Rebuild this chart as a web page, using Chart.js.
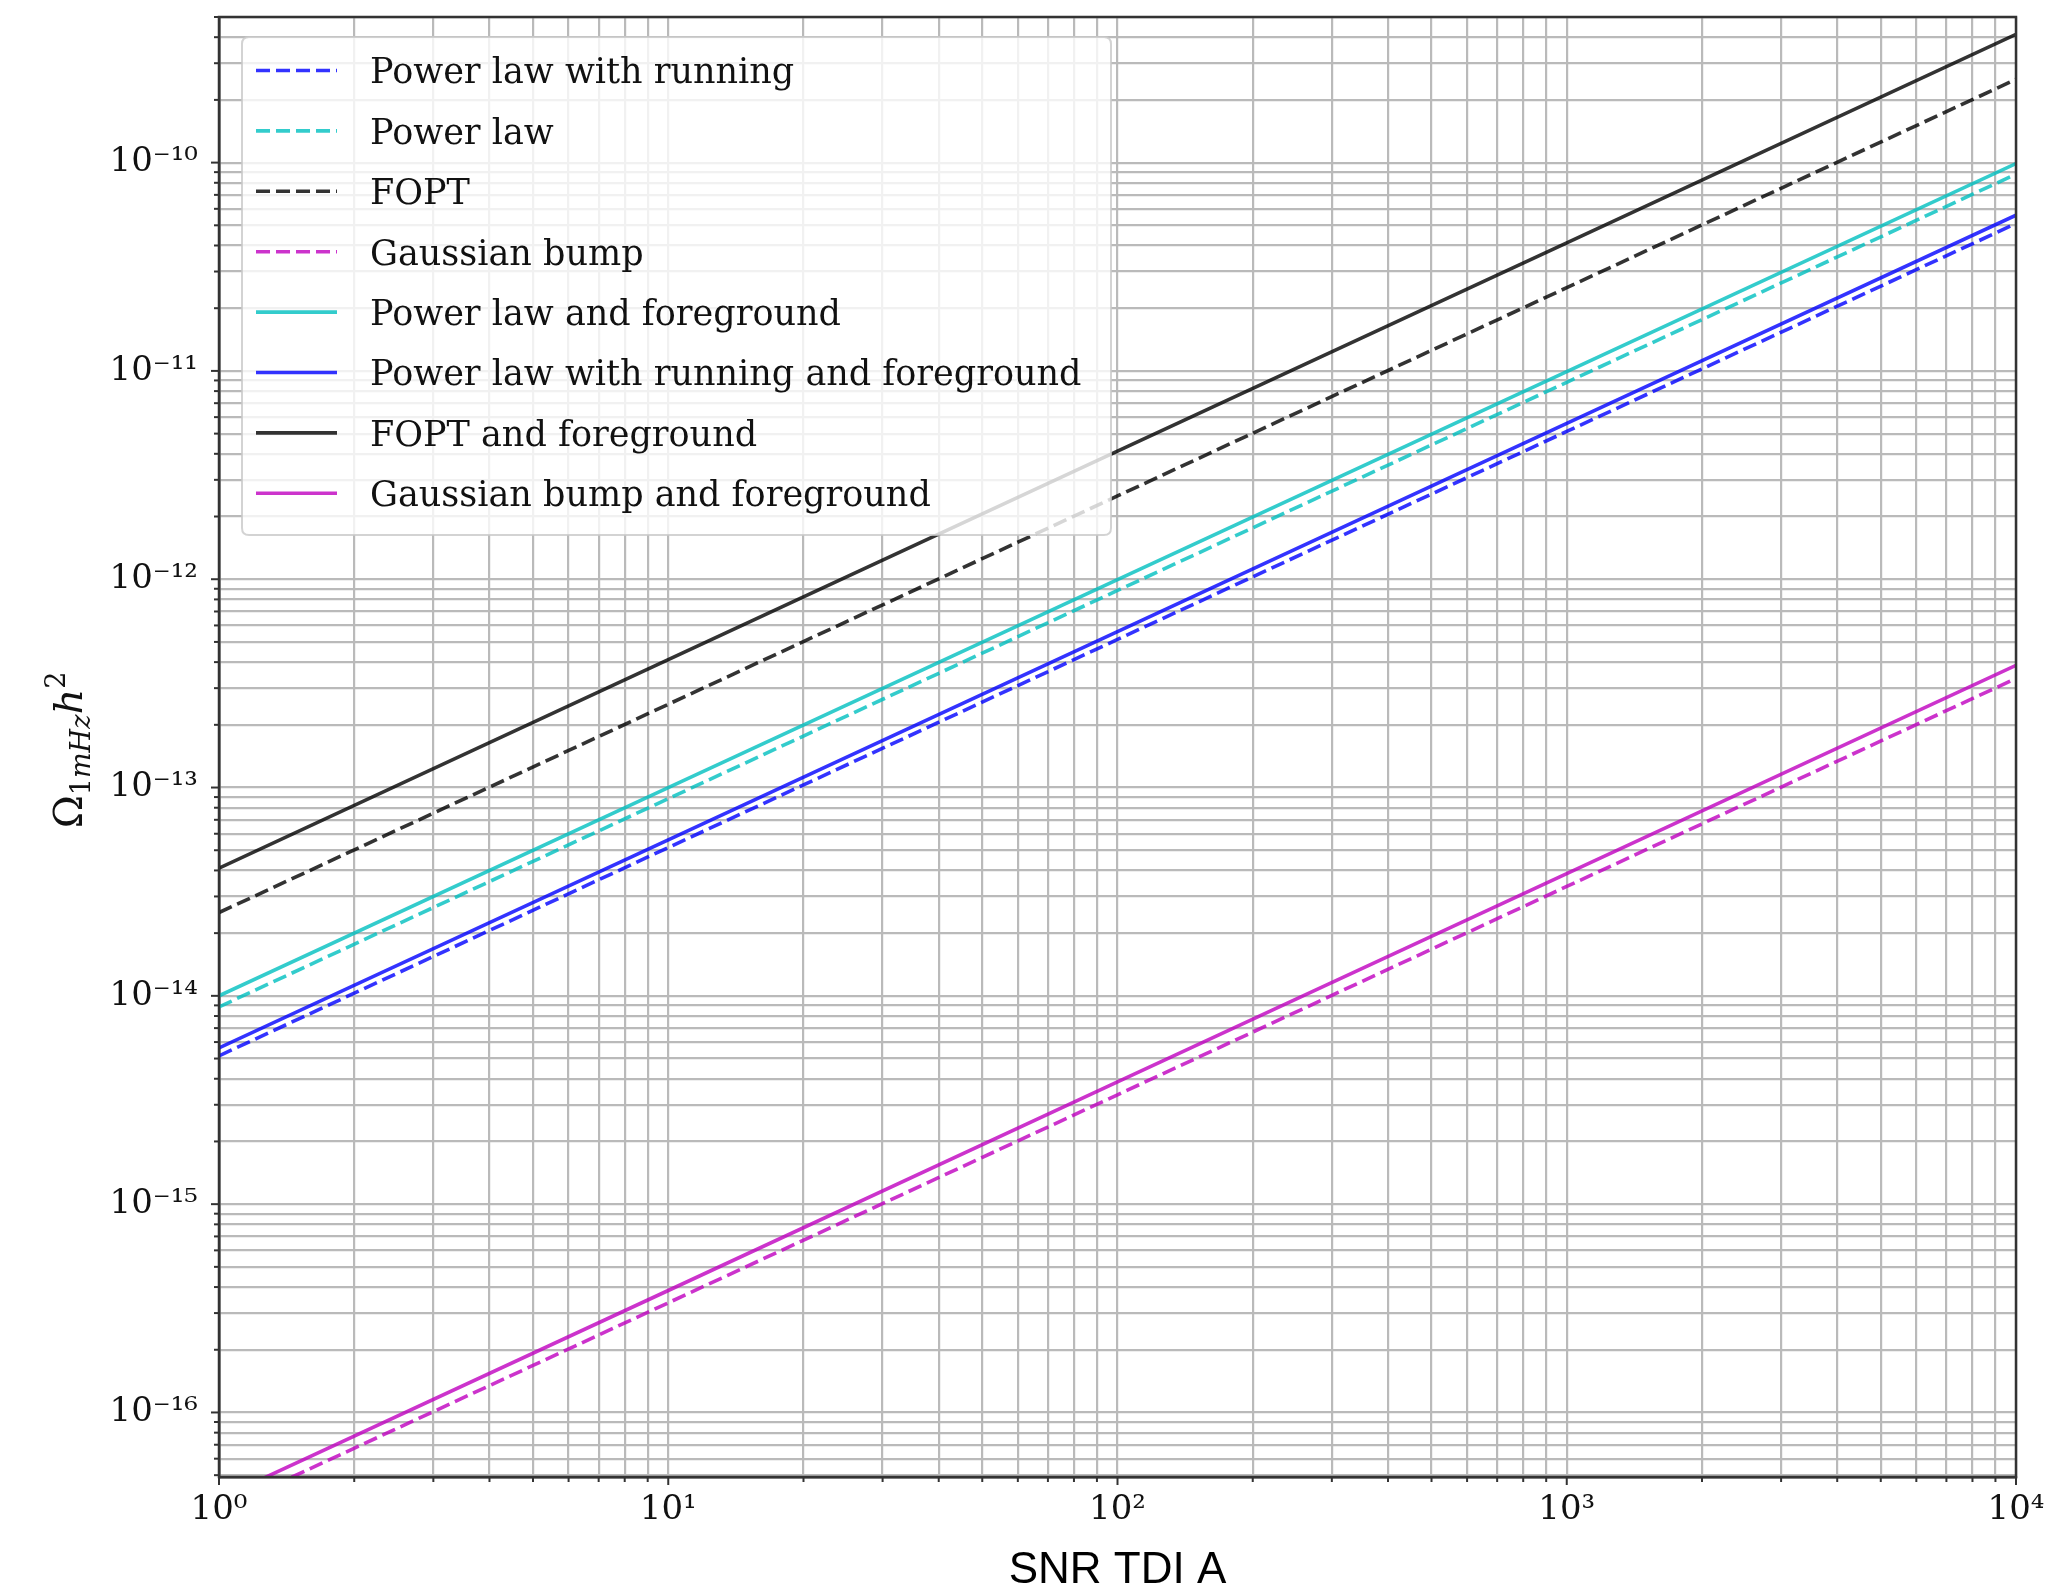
<!DOCTYPE html>
<html><head><meta charset="utf-8">
<script src="https://cdn.jsdelivr.net/npm/chart.js@4/dist/chart.umd.min.js"></script>
<style>html,body{margin:0;padding:0;background:#fff;overflow:hidden}canvas{display:block}</style>
</head><body>
<canvas id="c" width="2059" height="1591" style="width:2059px;height:1591px"></canvas>
<script>
// ---- data ----
const snr = [1, 10, 100, 1000, 10000];
const plRunning   = [5.15e-15, 5.15e-14, 5.14e-13, 5.12e-12, 5.10e-11];
const powerLaw    = [8.85e-15, 8.84e-14, 8.83e-13, 8.82e-12, 8.80e-11];
const fopt        = [2.51e-14, 2.51e-13, 2.51e-12, 2.51e-11, 2.51e-10];
const gaussBump   = [3.37e-17, 3.36e-16, 3.35e-15, 3.35e-14, 3.34e-13];
const powerLawFg  = [1.00e-14, 9.98e-14, 9.95e-13, 9.92e-12, 9.90e-11];
const plRunningFg = [5.62e-15, 5.61e-14, 5.60e-13, 5.60e-12, 5.59e-11];
const foptFg      = [4.10e-14, 4.11e-13, 4.12e-12, 4.12e-11, 4.13e-10];
const gaussBumpFg = [3.85e-17, 3.85e-16, 3.86e-15, 3.86e-14, 3.86e-13];

const seriesLabels = ['Power law with running','Power law','FOPT','Gaussian bump',
  'Power law and foreground','Power law with running and foreground','FOPT and foreground','Gaussian bump and foreground'];
const seriesValues = [plRunning, powerLaw, fopt, gaussBump, powerLawFg, plRunningFg, foptFg, gaussBumpFg];
const seriesColors = ['rgba(0,0,255,0.8)','rgba(0,191,191,0.8)','rgba(0,0,0,0.8)','rgba(191,0,191,0.8)',
  'rgba(0,191,191,0.8)','rgba(0,0,255,0.8)','rgba(0,0,0,0.8)','rgba(191,0,191,0.8)'];
const seriesDashed = [true,true,true,true,false,false,false,false];

const xTickValues = [1, 10, 100, 1000, 10000];
const xTickLabels = ['10⁰','10¹','10²','10³','10⁴'];
const yTickValues = [1e-16, 1e-15, 1e-14, 1e-13, 1e-12, 1e-11, 1e-10];
const yTickLabels = ['10⁻¹⁶','10⁻¹⁵','10⁻¹⁴','10⁻¹³','10⁻¹²','10⁻¹¹','10⁻¹⁰'];
const xRange = [1, 1e4];
const yRange = [4.9e-17, 5.0e-10];
const xTitle = 'SNR TDI A';

// ---- helpers ----
function isPow10(v){ const l = Math.log10(v); return Math.abs(l - Math.round(l)) < 1e-6; }
function gridValues(min, max){
  const out = [];
  for (let e = Math.floor(Math.log10(min)) ; e <= Math.ceil(Math.log10(max)); e++){
    for (let k = 1; k <= 9; k++){
      const v = parseFloat((k*Math.pow(10,e)).toPrecision(12));
      if (v >= min*(1-1e-9) && v <= max*(1+1e-9)) out.push(v);
    }
  }
  return out;
}
function labelFor(vals, labels, v){
  for (let i=0;i<vals.length;i++){ if (Math.abs(Math.log10(v)-Math.log10(vals[i]))<1e-6) return labels[i]; }
  return '';
}

const datasets = seriesLabels.map((lab,i)=>({
  label: lab,
  data: snr.map((x,j)=>({x:x, y:seriesValues[i][j]})),
  borderColor: seriesColors[i],
  backgroundColor: seriesColors[i],
  borderWidth: 3.6,
  borderDash: seriesDashed[i] ? [14,6] : [],
  pointRadius: 0, tension: 0, fill: false
}));

const SERIF = '"DejaVu Serif", serif';

const decor = {
  id: 'decor',
  afterDatasetsDraw(chart){
    // legend box (upper left, inside the axes)
    const ctx = chart.ctx, a = chart.chartArea;
    const bx = a.left + 23, by = a.top + 20, bw = 869, bh = 498, r = 7;
    ctx.save();
    ctx.beginPath();
    ctx.moveTo(bx+r,by); ctx.lineTo(bx+bw-r,by); ctx.quadraticCurveTo(bx+bw,by,bx+bw,by+r);
    ctx.lineTo(bx+bw,by+bh-r); ctx.quadraticCurveTo(bx+bw,by+bh,bx+bw-r,by+bh);
    ctx.lineTo(bx+r,by+bh); ctx.quadraticCurveTo(bx,by+bh,bx,by+bh-r);
    ctx.lineTo(bx,by+r); ctx.quadraticCurveTo(bx,by,bx+r,by); ctx.closePath();
    ctx.fillStyle = 'rgba(255,255,255,0.8)'; ctx.fill();
    ctx.strokeStyle = 'rgba(200,200,200,0.8)'; ctx.lineWidth = 2; ctx.stroke();
    ctx.font = '35px ' + SERIF; ctx.textBaseline = 'alphabetic'; ctx.textAlign = 'left';
    chart.data.datasets.forEach((ds,i)=>{
      const yy = by + 33.5 + i*60.4;
      ctx.beginPath();
      ctx.setLineDash(ds.borderDash || []);
      ctx.strokeStyle = ds.borderColor; ctx.lineWidth = ds.borderWidth;
      ctx.moveTo(bx+14, yy); ctx.lineTo(bx+95, yy); ctx.stroke();
      ctx.setLineDash([]);
      ctx.fillStyle = '#111';
      ctx.fillText(ds.label, bx+128, yy+12.8);
    });
    ctx.restore();
  },
  afterDraw(chart){
    const ctx = chart.ctx, a = chart.chartArea, xs = chart.scales.x, ys = chart.scales.y;
    ctx.save();
    ctx.strokeStyle = '#333'; ctx.lineWidth = 2;
    xs.ticks.forEach(t=>{
      const p = xs.getPixelForValue(t.value);
      ctx.beginPath(); ctx.moveTo(p, a.bottom); ctx.lineTo(p, a.bottom + (isPow10(t.value)?8:5)); ctx.stroke();
    });
    ys.ticks.forEach(t=>{
      const p = ys.getPixelForValue(t.value);
      ctx.beginPath(); ctx.moveTo(a.left, p); ctx.lineTo(a.left - (isPow10(t.value)?8:5), p); ctx.stroke();
    });
    ctx.lineWidth = 2.5;
    ctx.strokeRect(a.left, a.top, a.width, a.height);
    // y-axis title: Omega_{1mHz} h^2
    const parts = [
      {t:'Ω', f:'40px '+SERIF, dy:0},
      {t:'1', f:'27px '+SERIF, dy:8},
      {t:'mHz', f:'italic 27px '+SERIF, dy:8},
      {t:'h', f:'italic 40px '+SERIF, dy:0},
      {t:'2', f:'27px '+SERIF, dy:-17}
    ];
    let total = 0;
    parts.forEach(p=>{ ctx.font = p.f; p.w = ctx.measureText(p.t).width; total += p.w; });
    ctx.translate(82, 750);
    ctx.rotate(-Math.PI/2);
    ctx.fillStyle = '#111'; ctx.textBaseline = 'alphabetic'; ctx.textAlign = 'left';
    let cx = -total/2;
    parts.forEach(p=>{ ctx.font = p.f; ctx.fillText(p.t, cx, p.dy); cx += p.w; });
    ctx.restore();
  }
};

new Chart(document.getElementById('c'), {
  type: 'line',
  data: { datasets },
  options: {
    responsive: false, animation: false, devicePixelRatio: 1,
    layout: { padding: { left: 0, top: 17, right: 43, bottom: 0 } },
    plugins: { legend: { display: false }, tooltip: { enabled: false } },
    scales: {
      x: {
        type: 'logarithmic', position: 'bottom', min: xRange[0], max: xRange[1],
        afterFit(s){ s.height = 114; s.paddingLeft = 0; s.paddingRight = 0; },
        afterBuildTicks(s){ s.ticks = gridValues(xRange[0], xRange[1]).map(v=>({value:v})); },
        grid: { color: '#bababa', lineWidth: 2.2, drawTicks: false },
        border: { display: true, color: '#333', width: 2.5 },
        ticks: {
          autoSkip: false, maxRotation: 0, padding: 13, color: '#111',
          font: { family: SERIF, size: 34 },
          callback: (v)=>labelFor(xTickValues, xTickLabels, v)
        },
        title: { display: true, text: xTitle, color: '#000', padding: {top:0,bottom:0},
          font: { family: '"Liberation Sans", Arial, sans-serif', size: 44, lineHeight: 0.93 } }
      },
      y: {
        type: 'logarithmic', position: 'left', min: yRange[0], max: yRange[1],
        afterFit(s){ s.width = 219; s.paddingTop = 0; s.paddingBottom = 0; },
        afterBuildTicks(s){ s.ticks = gridValues(yRange[0], yRange[1]).map(v=>({value:v})); },
        grid: { color: '#bababa', lineWidth: 2.2, drawTicks: false },
        border: { display: true, color: '#333', width: 2.5 },
        ticks: {
          autoSkip: false, padding: 21, color: '#111',
          font: { family: SERIF, size: 34 },
          callback: (v)=>labelFor(yTickValues, yTickLabels, v)
        }
      }
    }
  },
  plugins: [decor]
});
</script>
</body></html>
